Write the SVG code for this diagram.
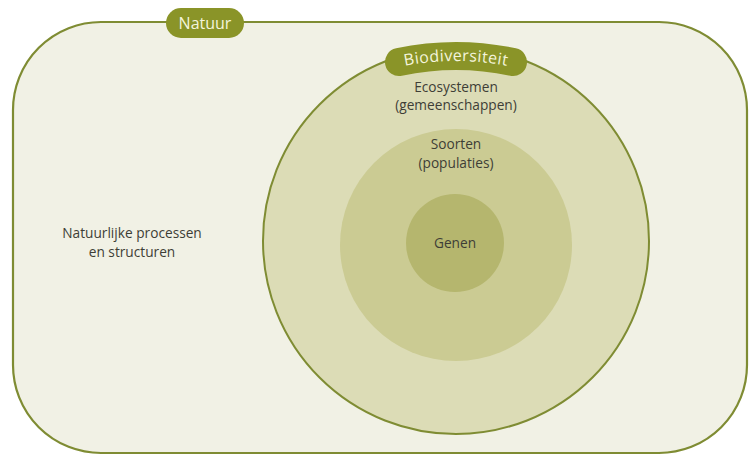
<svg xmlns="http://www.w3.org/2000/svg" width="751" height="457" viewBox="0 0 751 457">
<defs>
<style>
.lbl{font-family:"Open Sans","Noto Sans","Liberation Sans",sans-serif;font-size:13.7px;fill:#3e3e36;text-anchor:middle}
.tag{font-family:"Open Sans","Noto Sans","Liberation Sans",sans-serif;font-size:16px;fill:#f4f4dc;text-anchor:middle}
</style>
<path id="arcText" d="M 187 330 A 269 269 0 0 1 725 330"/>
</defs>
<rect width="751" height="457" fill="#ffffff"/>
<g id="natuur">
<rect x="13" y="22" width="734" height="431" rx="88" ry="88" fill="#f1f1e5" stroke="#7f8c33" stroke-width="2.2"/>
<rect x="166" y="8" width="78" height="30" rx="15" fill="#8a9428"/>
<text class="tag" x="205" y="29">Natuur</text>
<text class="lbl" x="132" y="238">Natuurlijke processen</text>
<text class="lbl" x="132" y="257">en structuren</text>
</g>
<g id="ecosystemen">
<circle cx="456" cy="241" r="193" fill="#dcdcb6" stroke="#7f8c33" stroke-width="2"/>
<text class="lbl" x="456" y="92">Ecosystemen</text>
<text class="lbl" x="456" y="110">(gemeenschappen)</text>
</g>
<g id="soorten">
<circle cx="456" cy="245" r="116" fill="#cbcb93"/>
<text class="lbl" x="456" y="149">Soorten</text>
<text class="lbl" x="456" y="168">(populaties)</text>
</g>
<g id="genen">
<circle cx="455" cy="243" r="49" fill="#b5b66e"/>
<text class="lbl" x="455" y="248">Genen</text>
</g>
<g id="biodiversiteit">
<path d="M 399 62 A 274 274 0 0 1 513 62" fill="none" stroke="#8a9428" stroke-width="28" stroke-linecap="round"/>
<text class="tag" style="letter-spacing:0.4px"><textPath href="#arcText" startOffset="50%">Biodiversiteit</textPath></text>
</g>
<g id="connectors"/>
</svg>
